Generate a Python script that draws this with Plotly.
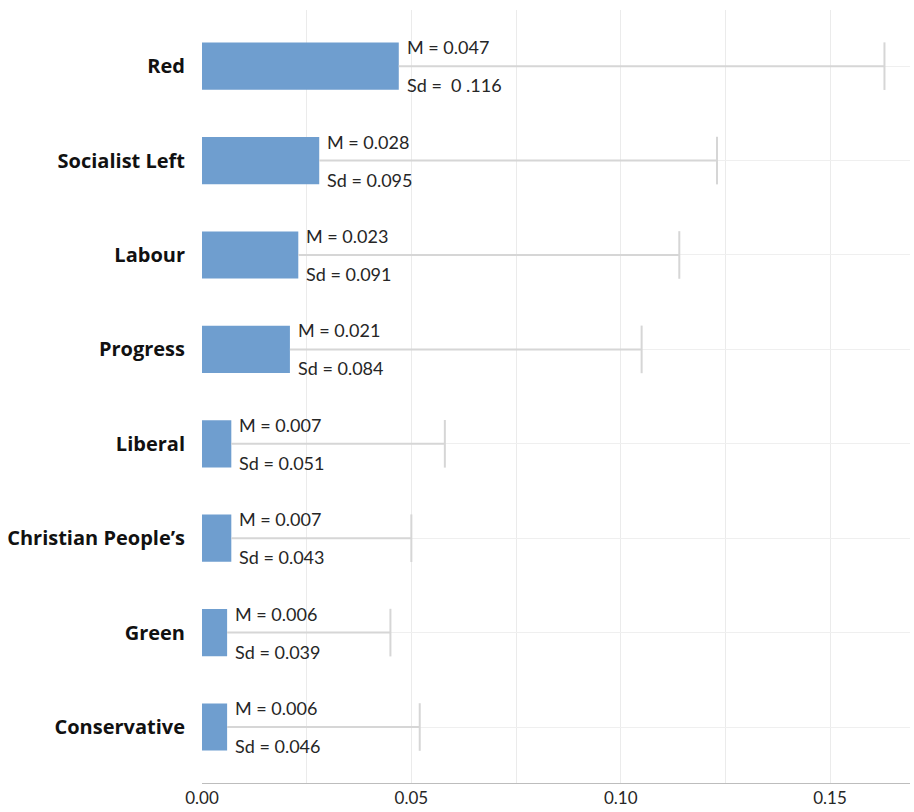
import plotly.graph_objects as go

parties = ["Red", "Socialist Left", "Labour", "Progress", "Liberal",
           "Christian People\u2019s", "Green", "Conservative"]
means = [0.047, 0.028, 0.023, 0.021, 0.007, 0.007, 0.006, 0.006]
sds = [0.116, 0.095, 0.091, 0.084, 0.051, 0.043, 0.039, 0.046]
m_labels = ["M = 0.047", "M = 0.028", "M = 0.023", "M = 0.021",
            "M = 0.007", "M = 0.007", "M = 0.006", "M = 0.006"]
sd_labels = ["Sd =  0 .116", "Sd = 0.095", "Sd = 0.091", "Sd = 0.084",
             "Sd = 0.051", "Sd = 0.043", "Sd = 0.039", "Sd = 0.046"]
x_ticks = [0.0, 0.05, 0.10, 0.15]
x_tick_text = ["0.00", "0.05", "0.10", "0.15"]

FONT = "Lato, 'Open Sans', sans-serif"
LABEL_FONT = "'Open Sans', Lato, sans-serif"
ERR = "#d6d6d6"

fig = go.Figure()
fig.add_trace(go.Bar(
    y=parties, x=means, orientation="h",
    width=0.5,
    marker=dict(color="#6f9ecf", line=dict(width=0)),
    hoverinfo="skip",
))

# one-sided error bars: line from mean to mean + sd, cap at the end
ex, ey = [], []
for p, m, s in zip(parties, means, sds):
    ex += [m, m + s, None]
    ey += [p, p, None]
fig.add_trace(go.Scatter(x=ex, y=ey, mode="lines",
                         line=dict(color=ERR, width=2), hoverinfo="skip"))
fig.add_trace(go.Scatter(x=[m + s for m, s in zip(means, sds)], y=parties,
                         mode="markers",
                         marker=dict(symbol="line-ns", size=34,
                                     line=dict(color=ERR, width=2)),
                         hoverinfo="skip"))

annotations = []
for p, m, ml, sl in zip(parties, means, m_labels, sd_labels):
    annotations.append(dict(x=m, y=p, xref="x", yref="y", text=ml,
                            showarrow=False, xanchor="left", yanchor="middle",
                            xshift=6, yshift=19,
                            font=dict(family=FONT, size=18, color="#262626")))
    annotations.append(dict(x=m, y=p, xref="x", yref="y", text=sl,
                            showarrow=False, xanchor="left", yanchor="middle",
                            xshift=6, yshift=-19,
                            font=dict(family=FONT, size=18, color="#262626")))

fig.update_layout(
    width=914, height=812,
    margin=dict(l=202, r=4, t=10, b=29),
    plot_bgcolor="white", paper_bgcolor="white",
    showlegend=False,
    annotations=annotations,
    font=dict(family=FONT),
    xaxis=dict(range=[0, 0.1691], tickvals=x_ticks, ticktext=x_tick_text,
               showgrid=True, gridcolor="#ebebeb", gridwidth=1,
               minor=dict(dtick=0.025, tick0=0, showgrid=True,
                          gridcolor="#ebebeb", gridwidth=1),
               showline=True, linecolor="#bdbdbd", linewidth=1,
               zeroline=False, ticks="",
               tickfont=dict(family=FONT, size=17, color="#262626")),
    yaxis=dict(categoryorder="array", categoryarray=parties[::-1],
               range=[-0.593, 7.595],
               showgrid=True, gridcolor="#efefef", gridwidth=1,
               zeroline=False, showline=False, ticks="",
               ticklabelstandoff=16,
               tickfont=dict(family=LABEL_FONT, size=20, color="#111111",
                             weight="bold")),
)

fig.write_html("out.html")
